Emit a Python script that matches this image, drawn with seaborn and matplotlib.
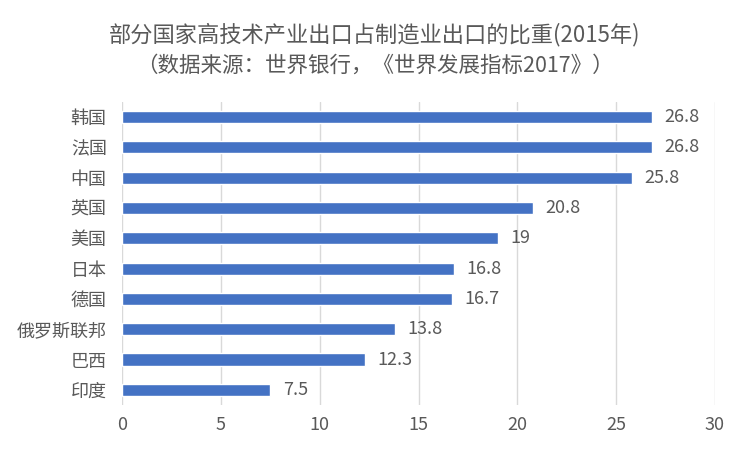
import pandas as pd
import matplotlib
matplotlib.use("Agg")
import matplotlib.pyplot as plt
import seaborn as sns

# Data
countries = ["韩国", "法国", "中国", "英国", "美国", "日本", "德国", "俄罗斯联邦", "巴西", "印度"]
shares = [26.8, 26.8, 25.8, 20.8, 19, 16.8, 16.7, 13.8, 12.3, 7.5]
value_labels = ["26.8", "26.8", "25.8", "20.8", "19", "16.8", "16.7", "13.8", "12.3", "7.5"]
x_ticks = [0, 5, 10, 15, 20, 25, 30]

title = "部分国家高技术产业出口占制造业出口的比重(2015年)"
subtitle = "（数据来源：世界银行，《世界发展指标2017》）"

sns.set_theme(style="white")
plt.rcParams['font.family'] = ['Noto Sans CJK SC', 'DejaVu Sans']

grey = "#595959"
df = pd.DataFrame({"country": countries, "share": shares})

fig = plt.figure(figsize=(7.5, 4.49), dpi=100)
ax = fig.add_axes([0.1627, 0.098, 0.7906, 0.675])

sns.barplot(data=df, x="share", y="country", color="#4472C4", width=0.4,
            saturation=1, ax=ax, zorder=3)

ax.set_xlim(0, 30)
ax.set_xticks(x_ticks)
ax.grid(axis="x", color="#D9D9D9", linewidth=1, zorder=0)
ax.set_xlabel("")
ax.set_ylabel("")
for s in ax.spines.values():
    s.set_visible(False)
ax.tick_params(axis="both", length=0, labelsize=13, colors=grey)
ax.tick_params(axis="x", pad=8)
ax.tick_params(axis="y", pad=11)
for t in ax.get_xticklabels() + ax.get_yticklabels():
    t.set_fontweight("light")

for i, (v, lab) in enumerate(zip(shares, value_labels)):
    ax.annotate(lab, xy=(v, i), xytext=(9, 0), textcoords="offset points",
                va="center", ha="left", fontsize=13, color=grey, fontweight="light")

fig.text(0.5, 1 - 35 / 449, title, ha="center", va="center", fontsize=16,
         color=grey, fontweight="light")
fig.text(0.5, 1 - 66 / 449, subtitle, ha="center", va="center", fontsize=15.5,
         color=grey, fontweight="light")

fig.savefig("out.png", dpi=100, facecolor="white")
